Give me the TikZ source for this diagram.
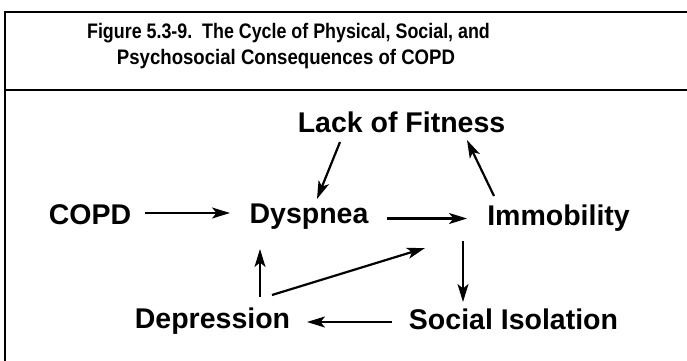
\documentclass[tikz,border=0pt]{standalone}
\usepackage{fontspec}
\setmainfont{Liberation Sans}
\newfontfamily\ttlfonta{Liberation Sans}[FakeStretch=0.85]
\newfontfamily\ttlfontb{Liberation Sans}[FakeStretch=0.886]
\usetikzlibrary{arrows.meta}
\begin{document}
\begin{tikzpicture}[x=1pt,y=-1pt,
  lbl/.style={font=\fontsize{28.5}{30}\selectfont\bfseries, inner sep=0pt, anchor=base},
  ttl/.style={inner sep=0pt, anchor=base},
  arr/.style={line width=2.2pt, -{Stealth[length=18pt,width=11pt,inset=4.5pt]}},
  frame/.style={line width=2.2pt}]
\useasboundingbox (0,0) rectangle (687,360);
\fill[white] (0,0) rectangle (687,360);
\draw[frame] (690,12) -- (5,12) -- (5,362);
\draw[frame] (5,90) -- (690,90);
\node[ttl, font=\ttlfonta\fontsize{21}{24}\selectfont\bfseries] (t1) at (288.5,38) {Figure 5.3-9.\ \ The Cycle of Physical, Social, and};
\node[ttl, font=\ttlfontb\fontsize{21}{24}\selectfont\bfseries] (t2) at (286,64) {Psychosocial Consequences of COPD};
\node[lbl] (fit) at (401.5,132) {Lack of Fitness};
\node[lbl] (copd) at (90,224) {COPD};
\node[lbl] (dysp) at (309,223) {Dyspnea};
\node[lbl] (immo) at (558.5,225) {Immobility};
\node[lbl] (soc) at (513.5,329) {Social Isolation};
\node[lbl] (dep) at (212.5,328) {Depression};
\coordinate (mid) at (425,248);
\draw[arr] ([xshift=55pt,yshift=11pt]copd.base) -- ([xshift=-79pt,yshift=10pt]dysp.base);
\draw[arr] ([xshift=78pt,yshift=4.5pt]dysp.base) -- ([xshift=-91.5pt,yshift=6.5pt]immo.base);
\draw[arr] ([xshift=-61.5pt,yshift=-10pt]fit.base) -- ([xshift=8pt,yshift=24pt]dysp.base);
\draw[arr] ([xshift=-64.5pt,yshift=29pt]immo.base) -- ([xshift=65.5pt,yshift=-8pt]fit.base);
\draw[arr] ([xshift=-95.5pt,yshift=-16pt]immo.base) -- ([xshift=-50.5pt,yshift=27pt]soc.base);
\draw[arr] ([xshift=-121.5pt,yshift=7pt]soc.base) -- ([xshift=94.5pt,yshift=6pt]dep.base);
\draw[arr] ([xshift=47.5pt,yshift=31pt]dep.base) -- ([xshift=-49pt,yshift=-26pt]dysp.base);
\draw[arr] ([xshift=59.5pt,yshift=33pt]dep.base) -- (mid);
\end{tikzpicture}
\end{document}
